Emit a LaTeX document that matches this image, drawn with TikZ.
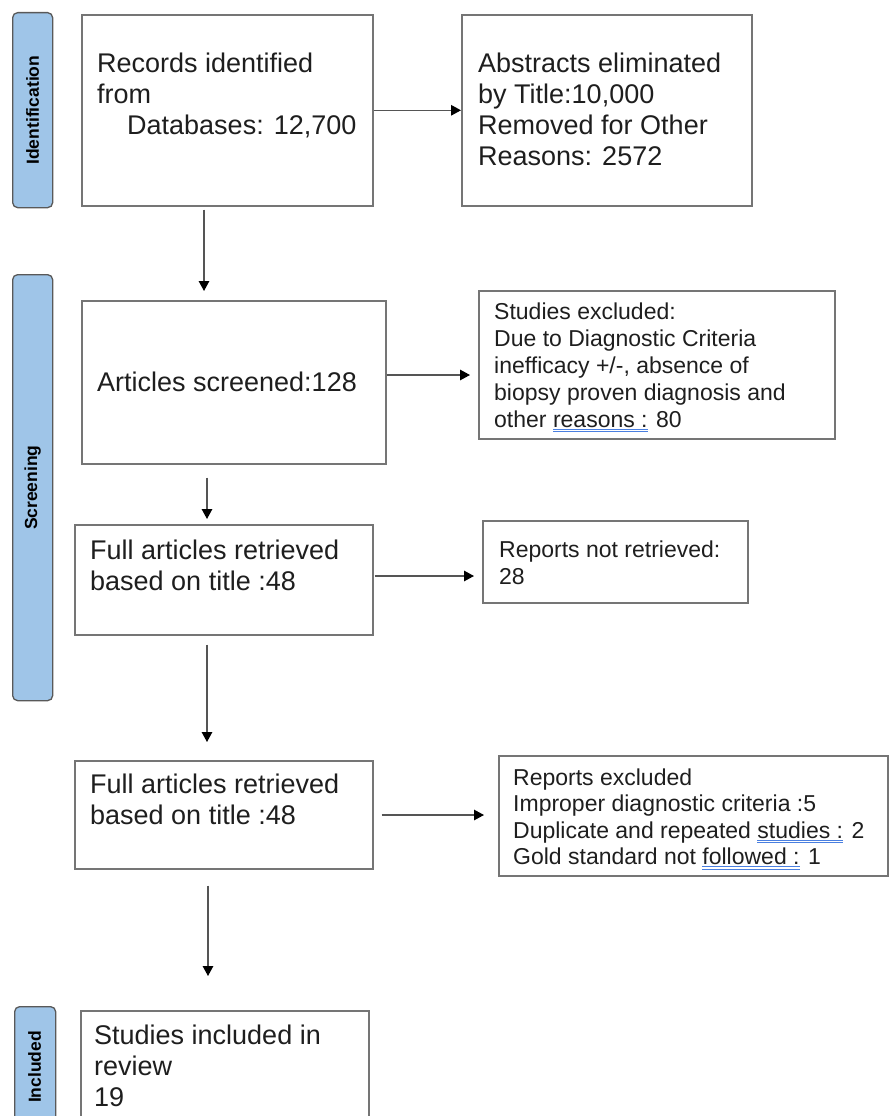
\documentclass[tikz,border=0pt]{standalone}
\usepackage{fontspec}
\setmainfont{Liberation Sans}
\usetikzlibrary{arrows.meta}
\definecolor{barfill}{HTML}{9FC5E8}
\definecolor{barline}{HTML}{595959}
\definecolor{boxline}{HTML}{757575}
\definecolor{txt}{HTML}{1E1E1E}
\definecolor{ulblue}{HTML}{4A7FE0}
\definecolor{shaft}{HTML}{555555}
\newlength\ulwd
\newcommand\spellul[1]{\settowidth\ulwd{#1}\rlap{\textcolor{ulblue}{\rule[-2.4pt]{\ulwd}{0.8pt}}}\rlap{\textcolor{ulblue}{\rule[-4.8pt]{\ulwd}{0.8pt}}}#1}
\begin{document}
\begin{tikzpicture}[x=1pt,y=-1pt,
  box/.style={draw=boxline, line width=1.6pt, anchor=north west, inner sep=0pt},
  bar/.style={draw=barline, fill=barfill, line width=1.3pt, rounded corners=5pt, anchor=north west, inner sep=0pt},
  barlabel/.style={rotate=90, font=\fontsize{17.5}{20}\selectfont\bfseries, text=black, inner sep=0pt},
  bigtxt/.style={anchor=north west, inner sep=0pt, align=left, text=txt, font=\fontsize{27}{31}\selectfont},
  smalltxt/.style={anchor=north west, inner sep=0pt, align=left, text=txt, font=\fontsize{23}{27}\selectfont},
  arr/.style={draw=shaft, line width=1.4pt, -{Triangle[length=10pt,width=10.5pt,color=black]}}]
\useasboundingbox (0,0) rectangle (889,1116);
\clip (0,0) rectangle (889,1116);

% side bars
\node[bar, minimum width=40pt, minimum height=195pt] (Bid) at (12,12) {};
\node[bar, minimum width=40pt, minimum height=426pt] (Bsc) at (12,274) {};
\node[bar, minimum width=41pt, minimum height=140pt] (Bin) at (14,1006) {};
\node[barlabel] (Lid) at (Bid.center) {Identification};
\node[barlabel] (Lsc) at (Bsc.center) {Screening};
\node[barlabel] (Lin) at (34.5,1067) {Included};

% boxes
\node[box, minimum width=291pt, minimum height=191pt] (A) at (81,14) {};
\node[box, minimum width=290pt, minimum height=191pt] (B) at (461,14) {};
\node[box, minimum width=304pt, minimum height=163pt] (C) at (81,300) {};
\node[box, minimum width=356pt, minimum height=148pt] (D) at (478,290) {};
\node[box, minimum width=298pt, minimum height=110pt] (E) at (74,524) {};
\node[box, minimum width=265pt, minimum height=82pt] (F) at (482,520) {};
\node[box, minimum width=298pt, minimum height=108pt] (G) at (74,760) {};
\node[box, minimum width=389pt, minimum height=120pt] (H) at (498,755) {};
\node[box, minimum width=288pt, minimum height=140pt] (I) at (80,1010) {};

% texts
\node[bigtxt] (At) at (97,50.3) {\strut Records identified\\\strut from\\\strut\hspace*{30pt}Databases: 12,700};
\node[bigtxt] (Bt) at (478,50.3) {\strut Abstracts eliminated\\\strut by Title:10,000\\\strut Removed for Other\\\strut Reasons: 2572};
\node[bigtxt] (Ct) at (97,369.3) {\strut Articles screened:128};
\node[smalltxt] (Dt) at (494,300.1) {\strut Studies excluded:\\\strut Due to Diagnostic Criteria\\\strut inefficacy +/-, absence of\\\strut biopsy proven diagnosis and\\\strut other \spellul{reasons :} 80};
\node[bigtxt] (Et) at (90,537.3) {\strut Full articles retrieved\\\strut based on title :48};
\node[smalltxt] (Ft) at (499,538.1) {\strut Reports not retrieved:\\\strut 28};
\node[bigtxt] (Gt) at (90,771.3) {\strut Full articles retrieved\\\strut based on title :48};
\node[smalltxt, font=\fontsize{23}{26.5}\selectfont] (Ht) at (513,766.45) {\strut Reports excluded\\\strut Improper diagnostic criteria :5\\\strut Duplicate and repeated \spellul{studies :} 2\\\strut Gold standard not \spellul{followed :} 1};
\node[bigtxt] (It) at (94,1022.3) {\strut Studies included in\\\strut review\\\strut 19};

% helper coordinates for connector lines
\coordinate (colA) at (204,0);
\coordinate (colC) at (207,0);
\coordinate (colE) at (207,0);
\coordinate (colG) at (208,0);
\coordinate (rowC) at (0,375);
\coordinate (rowE) at (0,576);
\coordinate (rowG) at (0,815);

% horizontal connectors
\draw[arr] (A.east) -- (B.west);
\draw[arr, shorten >=8pt] (C.east |- rowC) -- (D.west |- rowC);
\draw[arr, shorten <=1pt, shorten >=8pt] (E.east |- rowE) -- (F.west |- rowE);
\draw[arr, shorten <=8pt, shorten >=14pt] (G.east |- rowG) -- (H.west |- rowG);

% vertical connectors
\draw[arr, shorten <=3pt, shorten >=9pt] (A.south -| colA) -- (C.north -| colA);
\draw[arr, shorten <=13pt, shorten >=5pt] (C.south -| colC) -- (E.north -| colC);
\draw[arr, shorten <=9pt, shorten >=18pt] (E.south -| colE) -- (G.north -| colE);
\draw[arr, shorten <=16pt, shorten >=34pt] (G.south -| colG) -- (I.north -| colG);
\end{tikzpicture}
\end{document}
